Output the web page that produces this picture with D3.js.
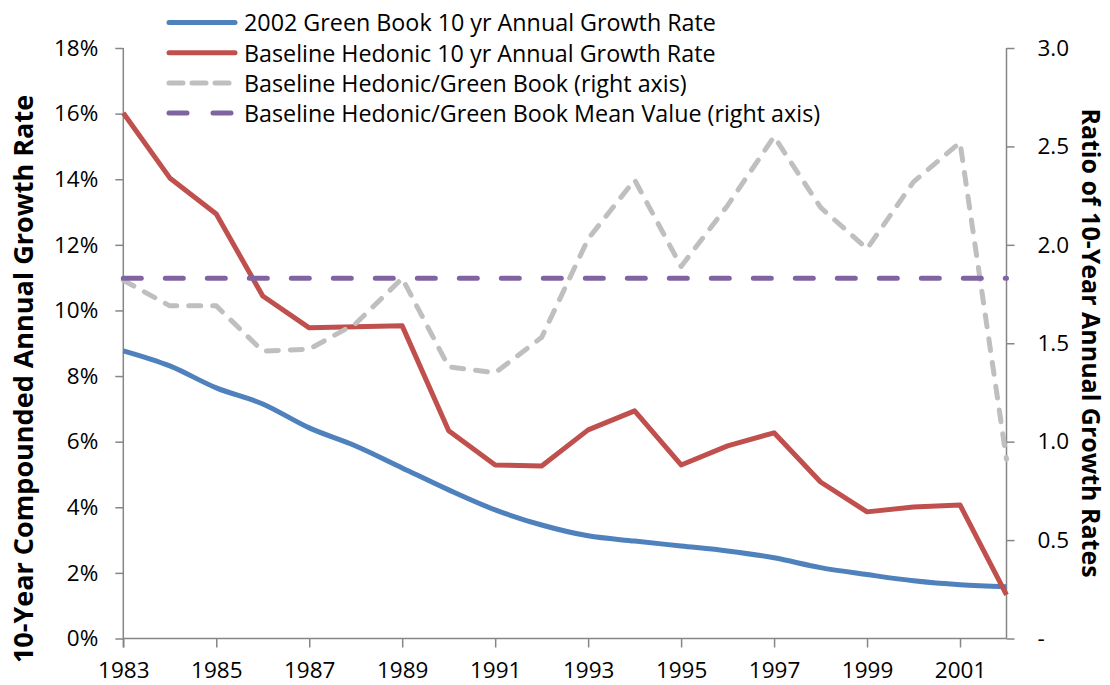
<!DOCTYPE html>
<html>
<head>
<meta charset="utf-8">
<script src="https://cdn.jsdelivr.net/npm/d3@7"></script>
<style>
  body { margin: 0; background: #fff; }
  svg text { font-family: "Open Sans", sans-serif; fill: #000; }
</style>
</head>
<body>
<div id="chart"></div>
<script>
const years = d3.range(1983, 2003);
const greenBook = [8.77, 8.31, 7.64, 7.15, 6.42, 5.87, 5.20, 4.53, 3.92, 3.46,
                   3.13, 2.97, 2.82, 2.67, 2.46, 2.16, 1.95, 1.76, 1.64, 1.58];
const hedonic = [16.02, 14.04, 12.94, 10.44, 9.47, 9.50, 9.53, 6.33, 5.29, 5.26,
                 6.36, 6.94, 5.29, 5.87, 6.27, 4.77, 3.86, 4.01, 4.07, 1.33];
const ratio = [1.82, 1.69, 1.69, 1.46, 1.47, 1.60, 1.83, 1.38, 1.35, 1.53,
               2.03, 2.33, 1.89, 2.20, 2.55, 2.19, 1.98, 2.32, 2.52, 0.91];
const ratioMean = 1.83;
const leftTicks = [0, 2, 4, 6, 8, 10, 12, 14, 16, 18];
const rightTicks = [0, 0.5, 1.0, 1.5, 2.0, 2.5, 3.0];
const xTickYears = [1983, 1985, 1987, 1989, 1991, 1993, 1995, 1997, 1999, 2001];
const legendLabels = ["2002 Green Book 10 yr Annual Growth Rate",
                      "Baseline Hedonic 10 yr Annual Growth Rate",
                      "Baseline Hedonic/Green Book (right axis)",
                      "Baseline Hedonic/Green Book Mean Value (right axis)"];

const w = 1110, h = 685;
const plotL = 123.3, plotR = 1006.5, plotT = 48, plotB = 638.5;
const axisColor = "#868686";

const svg = d3.select("#chart").append("svg")
  .attr("width", w).attr("height", h);

const x = d3.scalePoint().domain(years).range([plotL, plotR]);
const yL = d3.scaleLinear().domain([0, 18]).range([plotB, plotT]);
const yR = d3.scaleLinear().domain([0, 3]).range([plotB, plotT]);

// axes
const xAxis = d3.axisBottom(x).tickValues(xTickYears).tickSize(9).tickPadding(15);
const gx = svg.append("g").attr("transform", "translate(0," + plotB + ")").call(xAxis);

const yAxisL = d3.axisLeft(yL).tickValues(leftTicks).tickSize(8).tickPadding(17)
  .tickFormat(d => d + "%");
const gyl = svg.append("g").attr("transform", "translate(" + plotL + ",0)").call(yAxisL);

const yAxisR = d3.axisRight(yR).tickValues(rightTicks).tickSize(8).tickPadding(23)
  .tickFormat(d => d === 0 ? "-" : d3.format(".1f")(d));
const gyr = svg.append("g").attr("transform", "translate(" + plotR + ",0)").call(yAxisR);

[gx, gyl, gyr].forEach(g => {
  g.select(".domain").attr("stroke", axisColor).attr("stroke-width", 1.5);
  g.selectAll(".tick line").attr("stroke", axisColor).attr("stroke-width", 1.5);
  g.selectAll(".tick text").attr("font-size", 22.5).attr("font-family", "'Open Sans', sans-serif");
});
gx.select(".domain").attr("d", "M" + plotL + ",0H" + plotR);
gyl.select(".domain").attr("d", "M0," + plotT + "V" + (plotB + 9));
gyr.select(".domain").attr("d", "M0," + plotT + "V" + plotB);

// axis titles
svg.append("text")
  .attr("transform", "translate(33,379) rotate(-90)")
  .attr("text-anchor", "middle")
  .attr("font-size", 27).attr("font-weight", "bold")
  .text("10-Year Compounded Annual Growth Rate");
svg.append("text")
  .attr("transform", "translate(1082,343) rotate(90)")
  .attr("text-anchor", "middle")
  .attr("font-size", 25).attr("font-weight", "bold")
  .text("Ratio of 10-Year Annual Growth Rates");

// series
const styles = [
  { color: "#4F81BD", dash: null },
  { color: "#C0504D", dash: null },
  { color: "#BFBFBF", dash: "12,12" },
  { color: "#8064A2", dash: "18,24" }
];

const blueLine = d3.line().x((d, i) => x(years[i])).y(d => yL(d)).curve(d3.curveMonotoneX);
const redLine = d3.line().x((d, i) => x(years[i])).y(d => yL(d));
const grayLine = d3.line().x((d, i) => x(years[i])).y(d => yR(d));

svg.append("path").datum(greenBook).attr("d", blueLine)
  .attr("fill", "none").attr("stroke", styles[0].color).attr("stroke-width", 5)
  .attr("stroke-linejoin", "round");
svg.append("path").datum(hedonic).attr("d", redLine)
  .attr("fill", "none").attr("stroke", styles[1].color).attr("stroke-width", 5)
  .attr("stroke-linejoin", "round");
svg.append("path").datum(ratio).attr("d", grayLine)
  .attr("fill", "none").attr("stroke", styles[2].color).attr("stroke-width", 5)
  .attr("stroke-dasharray", styles[2].dash).attr("stroke-linecap", "round")
  .attr("stroke-linejoin", "round");
svg.append("path").datum(years.map(() => ratioMean)).attr("d", grayLine)
  .attr("fill", "none").attr("stroke", styles[3].color).attr("stroke-width", 5)
  .attr("stroke-dasharray", styles[3].dash).attr("stroke-linecap", "round");

// legend
const legend = svg.append("g");
legendLabels.forEach((label, i) => {
  const yy = 22.5 + i * 30.2;
  legend.append("line")
    .attr("x1", 169).attr("x2", 235).attr("y1", yy).attr("y2", yy)
    .attr("stroke", styles[i].color).attr("stroke-width", 5)
    .attr("stroke-linecap", "round")
    .attr("stroke-dasharray", i === 2 ? "14,9" : i === 3 ? "18,26" : null);
  legend.append("text")
    .attr("x", 244).attr("y", yy + 8.8)
    .attr("font-size", 23.3)
    .text(label);
});
</script>
</body>
</html>
